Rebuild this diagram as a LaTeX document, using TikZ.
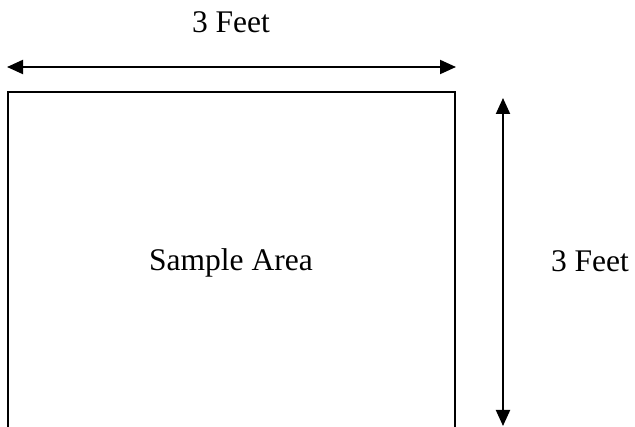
\documentclass[tikz,border=0pt]{standalone}
\usepackage{fontspec}
\setmainfont{Liberation Serif}
\usetikzlibrary{arrows.meta}
\tikzset{
  label text/.style={inner sep=0pt, anchor=base, font=\fontsize{31.5}{36}\selectfont},
  dim arrow/.style={line width=2pt, {Triangle[length=16pt,width=14pt]}-{Triangle[length=16pt,width=14pt]}},
  area box/.style={line width=2pt}
}
\begin{document}
\begin{tikzpicture}[x=1pt,y=-1pt]
\useasboundingbox (0,0) rectangle (635,427);
% sample area (open at the bottom)
\coordinate (bl) at (8,430);
\coordinate (tl) at (8,92);
\coordinate (tr) at (455,92);
\coordinate (br) at (455,430);
\draw[area box] (bl) -- (tl) -- (tr) -- (br);
% horizontal dimension
\coordinate (hL) at (7,67);
\coordinate (hR) at (456,67);
\draw[dim arrow] (hL) -- (hR);
% vertical dimension
\coordinate (vT) at (503,98);
\coordinate (vB) at (503,426);
\draw[dim arrow] (vT) -- (vB);
% labels
\node[label text] (top) at (231,33) {3 Feet};
\node[label text] (area) at (231,271) {Sample Area};
\node[label text] (right) at (590,272) {3 Feet};
\end{tikzpicture}
\end{document}
